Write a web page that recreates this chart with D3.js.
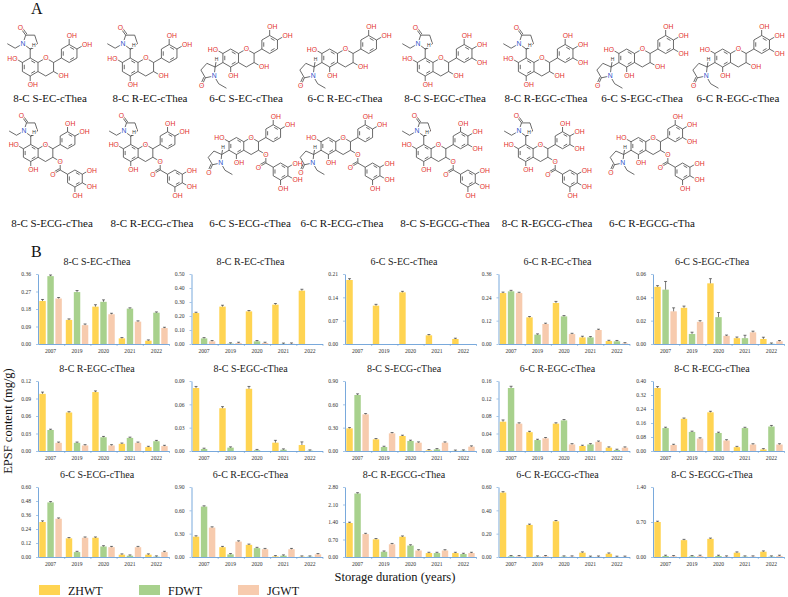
<!DOCTYPE html>
<html>
<head>
<meta charset="utf-8">
<script src="https://cdn.jsdelivr.net/npm/d3@7"></script>
<style>body{margin:0;background:#fff}</style>
</head>
<body>
<script>
// ---- data ----
const years = ["2007", "2019", "2020", "2021", "2022"];
const teas = ["ZHWT", "FDWT", "JGWT"];
const teaColors = ["#FFD452", "#A8D18D", "#F7CBAE"];

const structRow1 = ["8-C S-EC-cThea", "8-C R-EC-cThea", "6-C S-EC-cThea", "6-C R-EC-cThea",
  "8-C S-EGC-cThea", "8-C R-EGC-cThea", "6-C S-EGC-cThea", "6-C R-EGC-cThea"];
const structRow2 = ["8-C S-ECG-cThea", "8-C R-ECG-cThea", "6-C S-ECG-cThea", "6-C R-ECG-cThea",
  "8-C S-EGCG-cThea", "8-C R-EGCG-cThea", "6-C R-EGCG-cTha"];

const panelNames = [
  "8-C S-EC-cThea", "8-C R-EC-cThea", "6-C S-EC-cThea", "6-C R-EC-cThea", "6-C S-EGC-cThea",
  "8-C R-EGC-cThea", "8-C S-EGC-cThea", "8-C S-ECG-cThea", "6-C R-EGC-cThea", "8-C R-ECG-cThea",
  "6-C S-ECG-cThea", "6-C R-ECG-cThea", "8-C R-EGCG-cThea", "6-C R-EGCG-cThea", "8-C S-EGCG-cThea"];
const yMax  = [0.36, 0.50, 0.21, 0.36, 0.06, 0.12, 0.09, 0.90, 0.16, 0.40, 0.60, 0.90, 2.80, 0.60, 1.40];
const yStep = [0.09, 0.10, 0.07, 0.12, 0.02, 0.03, 0.03, 0.30, 0.04, 0.08, 0.12, 0.30, 0.70, 0.20, 0.70];

const zhwt = [
  [0.221, 0.124, 0.192, 0.029, 0.017],
  [0.221, 0.267, 0.233, 0.281, 0.381],
  [0.192, 0.115, 0.155, 0.026, 0.015],
  [0.262, 0.137, 0.211, 0.034, 0.015],
  [0.049, 0.031, 0.052, 0.005, 0.0043],
  [0.098, 0.066, 0.101, 0.0123, 0.0067],
  [0.081, 0.055, 0.080, 0.0107, 0.0077],
  [0.291, 0.150, 0.193, 0.009, 0.002],
  [0.067, 0.043, 0.0625, 0.0114, 0.0076],
  [0.360, 0.184, 0.221, 0.022, 0.009],
  [0.300, 0.160, 0.165, 0.020, 0.020],
  [0.261, 0.126, 0.156, 0.008, 0.004],
  [1.36, 0.707, 0.81, 0.157, 0.157],
  [0.552, 0.275, 0.306, 0.037, 0.028],
  [0.700, 0.337, 0.363, 0.086, 0.106]];
const fdwt = [
  [0.349, 0.267, 0.217, 0.182, 0.161],
  [0.040, 0.003, 0.019, 0.001, 0],
  [0, 0, 0, 0, 0],
  [0.271, 0.048, 0.142, 0.034, 0.014],
  [0.0466, 0.0086, 0.023, 0.005, 0.0002],
  [0.036, 0.014, 0.0236, 0.0224, 0.0168],
  [0.0026, 0.0043, 0.001, 0.0017, 0.0004],
  [0.72, 0.051, 0.129, 0.021, 0.004],
  [0.144, 0.025, 0.070, 0.015, 0.0023],
  [0.131, 0.109, 0.103, 0.131, 0.140],
  [0.468, 0.042, 0.090, 0.011, 0.003],
  [0.648, 0.034, 0.114, 0.017, 0.004],
  [2.54, 0.21, 0.458, 0.157, 0.118],
  [0.006, 0.003, 0.003, 0.001, 0.0005],
  [0.020, 0.013, 0.020, 0.007, 0.007]];
const jgwt = [
  [0.234, 0.097, 0.153, 0.115, 0.082],
  [0.019, 0.007, 0.007, 0.002, 0],
  [0, 0, 0, 0, 0],
  [0.262, 0.103, 0.051, 0.072, 0.003],
  [0.028, 0.019, 0.007, 0.010, 0.0023],
  [0.014, 0.0095, 0.0095, 0.014, 0.0084],
  [0, 0, 0, 0, 0],
  [0.471, 0.227, 0.107, 0.107, 0.056],
  [0.0625, 0.029, 0.015, 0.021, 0.0076],
  [0.034, 0.071, 0.060, 0.037, 0.037],
  [0.328, 0.165, 0.084, 0.084, 0.042],
  [0.378, 0.198, 0.100, 0.100, 0.034],
  [0.916, 0.51, 0.26, 0.26, 0.157],
  [0.006, 0.006, 0.003, 0.002, 0.001],
  [0.013, 0.020, 0.007, 0.007, 0.020]];

// standard deviations
const zhwtErr = [
  [0.008, 0.005, 0.010, 0.004, 0.003], [0.006, 0.010, 0.006, 0.008, 0.010],
  [0.004, 0.004, 0.003, 0.002, 0.002], [0.005, 0.004, 0.008, 0.006, 0.003],
  [0.001, 0.0015, 0.004, 0.001, 0.0015], [0.003, 0.001, 0.002, 0.001, 0.0005],
  [0.002, 0.002, 0.003, 0.003, 0.004], [0.010, 0.008, 0.010, 0.003, 0.002],
  [0.004, 0.002, 0.002, 0.001, 0.001], [0.008, 0.004, 0.006, 0.003, 0.002],
  [0.010, 0.005, 0.006, 0.004, 0.006], [0.012, 0.006, 0.008, 0.004, 0.003],
  [0.03, 0.02, 0.02, 0.01, 0.01], [0.008, 0.004, 0.006, 0.003, 0.003],
  [0.010, 0.010, 0.010, 0.008, 0.008]];
const fdwtErr = [
  [0.006, 0.008, 0.010, 0.003, 0.003], [0.004, 0.002, 0.004, 0.001, 0],
  [0, 0, 0, 0, 0], [0.005, 0.003, 0.003, 0.003, 0.002],
  [0.007, 0.0015, 0.004, 0.0025, 0.0002], [0.001, 0.001, 0.001, 0.001, 0.001],
  [0.001, 0.001, 0.0005, 0.0005, 0.0003], [0.015, 0.005, 0.006, 0.003, 0.002],
  [0.004, 0.001, 0.002, 0.001, 0.0005], [0.005, 0.004, 0.004, 0.004, 0.006],
  [0.006, 0.004, 0.004, 0.003, 0.002], [0.010, 0.004, 0.005, 0.004, 0.002],
  [0.02, 0.01, 0.01, 0.01, 0.01], [0.002, 0.002, 0.001, 0.001, 0.0005],
  [0.003, 0.003, 0.003, 0.002, 0.002]];
const jgwtErr = [
  [0.005, 0.006, 0.005, 0.004, 0.004], [0.003, 0.002, 0.002, 0.001, 0],
  [0, 0, 0, 0, 0], [0.004, 0.004, 0.003, 0.004, 0.001],
  [0.003, 0.001, 0.0005, 0.001, 0.0004], [0.001, 0.001, 0.001, 0.001, 0.001],
  [0, 0, 0, 0, 0], [0.006, 0.006, 0.005, 0.005, 0.004],
  [0.002, 0.001, 0.001, 0.001, 0.001], [0.003, 0.003, 0.003, 0.003, 0.003],
  [0.005, 0.005, 0.004, 0.004, 0.003], [0.008, 0.006, 0.006, 0.005, 0.005],
  [0.02, 0.015, 0.01, 0.01, 0.01], [0.002, 0.002, 0.001, 0.001, 0.0005],
  [0.002, 0.003, 0.002, 0.002, 0.002]];

// ---- drawing ----
const W = 788, H = 597;
const serif = "'Liberation Serif', 'Times New Roman', serif";
const sans = "'Liberation Sans', Arial, sans-serif";
const axisBlue = "#6A9FD8";

const svg = d3.select("body").append("svg").attr("width", W).attr("height", H);
svg.append("rect").attr("width", W).attr("height", H).attr("fill", "#fff");

// --- panel A: structures ---
function drawMol(name, ox, oy, b) {
  const six = name.startsWith("6-C");
  const pyro = name.includes("EGC");
  const gall = name.includes("CG-");
  const g = svg.append("g");
  const bonds = [], labels = [];
  const P = p => [ox + p[0] * b, oy + p[1] * b];
  const hex = (cx, cy) => d3.range(6).map(k => {
    const a = (-90 + 60 * k) * Math.PI / 180;
    return [cx + Math.cos(a), cy + Math.sin(a)];
  });
  function ring(V, c, dbl) {
    V.forEach((v, i) => bonds.push([v, V[(i + 1) % V.length]]));
    dbl.forEach(i => {
      const a = V[i], e = V[(i + 1) % V.length];
      const s = t => [a[0] + (e[0] - a[0]) * t, a[1] + (e[1] - a[1]) * t];
      const sh = p => [p[0] + (c[0] - p[0]) * 0.24, p[1] + (c[1] - p[1]) * 0.24];
      bonds.push([sh(s(0.18)), sh(s(0.82))]);
    });
  }
  function dbond(p, q) {
    bonds.push([p, q]);
    const dx = q[0] - p[0], dy = q[1] - p[1];
    const pr = [-dy * 0.18, dx * 0.18];
    bonds.push([[p[0] + pr[0], p[1] + pr[1]], [q[0] + pr[0], q[1] + pr[1]]]);
  }
  const A = hex(0, 0);
  ring(A, [0, 0], [0, 2, 4]);
  const O1 = [1.732, -1], C2 = [2.598, -0.5], C3 = [2.598, 0.5], C4 = [1.732, 1];
  bonds.push([A[1], O1], [O1, C2], [C2, C3], [C3, C4], [C4, A[2]]);
  labels.push({p: O1, t: "O"});
  const Bc = [4.33, -1.5];
  const B = hex(Bc[0], Bc[1]);
  ring(B, Bc, [0, 2, 4]);
  bonds.push([C2, B[4]]);
  const sub = (v, dir, t) => { const q = [v[0] + dir[0], v[1] + dir[1]]; bonds.push([v, q]); labels.push({p: q, t}); return q; };
  sub(B[0], [0, -0.95], "OH");
  sub(B[1], [0.82, -0.47], "OH");
  if (pyro) sub(B[2], [0.82, 0.47], "OH");
  sub(A[5], [-0.82, -0.47], "HO");
  sub(A[3], [0, 0.95], "OH");
  if (gall) {
    // 3-O-galloyl ester
    const Oe = sub(C3, [0.866, 0.5], "O");
    const Cc = [Oe[0], Oe[1] + 1];
    bonds.push([Oe, Cc]);
    const Od = [Cc[0] - 0.866, Cc[1] + 0.5];
    dbond(Cc, Od);
    labels.push({p: Od, t: "O"});
    const Gc = [Cc[0] + 1.732, Cc[1] + 1];
    const G = hex(Gc[0], Gc[1]);
    ring(G, Gc, [0, 2, 4]);
    bonds.push([Cc, G[5]]);
    sub(G[1], [0.82, -0.47], "OH");
    sub(G[2], [0.82, 0.47], "OH");
    sub(G[3], [0, 0.95], "OH");
  } else {
    sub(C3, [0.82, 0.47], "OH");
  }
  // pyrrolidinone
  const att = six ? A[4] : A[0];
  const d = six ? [-0.866, 0.5] : [0, -1];
  const C5 = [att[0] + d[0], att[1] + d[1]];
  bonds.push([att, C5]);
  const R = 0.851;
  const cen = [C5[0] + d[0] * R, C5[1] + d[1] * R];
  const a0 = Math.atan2(-d[1], -d[0]);
  const pv = d3.range(5).map(k => {
    const a = a0 + k * 72 * Math.PI / 180;
    return [cen[0] + R * Math.cos(a), cen[1] + R * Math.sin(a)];
  });
  ring(pv, cen, []);
  labels.push({p: pv[1], t: "N", c: "#2E4FC9"});
  const ac = a0 + 144 * Math.PI / 180;
  const Ok = [cen[0] + 1.85 * Math.cos(ac), cen[1] + 1.85 * Math.sin(ac)];
  dbond(pv[2], Ok);
  labels.push({p: Ok, t: "O"});
  const E1 = six ? [pv[1][0] + 0.5, pv[1][1] + 0.866] : [pv[1][0] - 0.866, pv[1][1] + 0.5];
  const E2 = six ? [E1[0] + 0.866, E1[1] + 0.5] : [E1[0] - 0.866, E1[1] - 0.5];
  bonds.push([pv[1], E1], [E1, E2]);
  // stereo H
  const hpos = [C5[0] + (six ? 0.1 : 0.35), C5[1] + (six ? -0.55 : -0.1)];
  bonds.push([C5, hpos]);
  labels.push({p: [hpos[0] + 0.05, hpos[1] - 0.3], t: "H", c: "#333", fs: 5});

  g.selectAll("line").data(bonds).join("line")
    .attr("x1", e => P(e[0])[0]).attr("y1", e => P(e[0])[1])
    .attr("x2", e => P(e[1])[0]).attr("y2", e => P(e[1])[1])
    .attr("stroke", "#3a3a3a").attr("stroke-width", 0.75);
  const fs0 = 6.8;
  g.selectAll("text").data(labels).join("text")
    .attr("x", l => {
      const x = P(l.p)[0], f = l.fs || fs0;
      return l.t === "OH" ? x - 0.36 * f : l.t === "HO" ? x + 0.36 * f : x;
    })
    .attr("y", l => P(l.p)[1])
    .attr("dy", "0.36em")
    .attr("text-anchor", l => l.t === "OH" ? "start" : l.t === "HO" ? "end" : "middle")
    .attr("font-family", sans).attr("font-size", l => l.fs || fs0)
    .attr("fill", l => l.c || "#E2302B")
    .attr("stroke", "#fff").attr("stroke-width", 2.2).attr("paint-order", "stroke")
    .text(l => l.t);
}

const row1X = [50, 150, 246, 345, 445, 546, 642, 738];
const row2X = [52, 152, 250, 342, 445, 547, 652];
const bond = 9, bond2 = 8.5;
structRow1.forEach((nm, i) => {
  const six = nm.startsWith("6-C");
  drawMol(nm, row1X[i] - (six ? 1.7 : 2.2) * bond, six ? 58 : 67, bond);
  svg.append("text").attr("x", row1X[i]).attr("y", 102).attr("text-anchor", "middle")
    .attr("font-family", serif).attr("font-size", 11).attr("fill", "#111").text(nm);
});
structRow2.forEach((nm, i) => {
  const six = nm.startsWith("6-C");
  drawMol(nm, row2X[i] - (six ? 1.6 : 2.5) * bond2, six ? 146 : 153, bond2);
  svg.append("text").attr("x", row2X[i]).attr("y", 227).attr("text-anchor", "middle")
    .attr("font-family", serif).attr("font-size", 11).attr("fill", "#111").text(nm);
});

svg.append("text").attr("x", 31).attr("y", 14).attr("font-family", serif)
  .attr("font-size", 16).attr("fill", "#111").text("A");
svg.append("text").attr("x", 31).attr("y", 257).attr("font-family", serif)
  .attr("font-size", 16).attr("fill", "#111").text("B");

// --- panel B: bar charts ---
const rowBase = [344, 451, 557];
const axX = [38, 191.5, 345, 498.5, 653];
const plotH = 70, plotW = 131;
const series = [zhwt, fdwt, jgwt];
const errs = [zhwtErr, fdwtErr, jgwtErr];

panelNames.forEach((nm, i) => {
  const r = Math.floor(i / 5), c = i % 5;
  const x0 = axX[c], yb = rowBase[r];
  const g = svg.append("g");
  const y = d3.scaleLinear().domain([0, yMax[i]]).range([yb, yb - plotH]);
  const x = d3.scaleBand().domain(years).range([x0, x0 + plotW]).paddingInner(0.15).paddingOuter(0.05);
  const xs = d3.scaleBand().domain(teas).range([0, x.bandwidth()]).paddingInner(0.2);

  const ticks = d3.range(0, yMax[i] + yStep[i] / 2, yStep[i]);
  const ya = g.append("g").attr("transform", `translate(${x0},0)`)
    .call(d3.axisLeft(y).tickValues(ticks).tickFormat(d3.format(".2f")).tickSize(2).tickSizeOuter(0).tickPadding(5));
  ya.select(".domain").attr("stroke", axisBlue).attr("stroke-width", 0.9);
  ya.selectAll(".tick line").attr("stroke", axisBlue).attr("stroke-width", 0.6);
  ya.selectAll(".tick text").attr("font-family", serif).attr("font-size", 5.6).attr("fill", "#333");

  const bars = [];
  years.forEach((yr, k) => teas.forEach((t, s) => {
    bars.push({yr, t, s, v: series[s][i][k], e: errs[s][i][k]});
  }));
  const shown = bars.filter(d => d.v > 0);
  g.selectAll("rect.bar").data(shown).join("rect").attr("class", "bar")
    .attr("x", d => x(d.yr) + xs(d.t))
    .attr("width", xs.bandwidth())
    .attr("y", d => y(d.v))
    .attr("height", d => yb - y(d.v))
    .attr("fill", d => teaColors[d.s]);
  const eb = g.selectAll("g.err").data(shown.filter(d => d.e > 0)).join("g").attr("class", "err")
    .attr("stroke", "#222").attr("stroke-width", 0.6);
  eb.append("line")
    .attr("x1", d => x(d.yr) + xs(d.t) + xs.bandwidth() / 2)
    .attr("x2", d => x(d.yr) + xs(d.t) + xs.bandwidth() / 2)
    .attr("y1", d => y(d.v)).attr("y2", d => Math.min(y(d.v + d.e), y(d.v) - 0.8));
  eb.append("line")
    .attr("x1", d => x(d.yr) + xs(d.t) + xs.bandwidth() / 2 - 1.5)
    .attr("x2", d => x(d.yr) + xs(d.t) + xs.bandwidth() / 2 + 1.5)
    .attr("y1", d => Math.min(y(d.v + d.e), y(d.v) - 0.8))
    .attr("y2", d => Math.min(y(d.v + d.e), y(d.v) - 0.8));

  // x axis: blue base line with group dividers, then year labels
  const xb = d3.scaleLinear().domain([0, years.length]).range([x0, x0 + plotW]);
  const xa = g.append("g").attr("transform", `translate(0,${yb})`)
    .call(d3.axisBottom(xb).tickValues(d3.range(1, years.length + 1)).tickFormat("").tickSize(2).tickSizeOuter(0));
  xa.select(".domain").attr("stroke", axisBlue).attr("stroke-width", 0.9);
  xa.selectAll(".tick line").attr("stroke", axisBlue).attr("stroke-width", 0.6);
  const xl = g.append("g").attr("transform", `translate(0,${yb})`)
    .call(d3.axisBottom(x).tickSize(0).tickPadding(5));
  xl.select(".domain").remove();
  xl.selectAll(".tick text").attr("font-family", serif).attr("font-size", 5.6).attr("fill", "#333");

  g.append("text").attr("x", x0 + 59).attr("y", yb - 79).attr("text-anchor", "middle")
    .attr("font-family", serif).attr("font-size", 10).attr("fill", "#222").text(nm);
});

svg.append("text").attr("transform", "translate(12,421) rotate(-90)")
  .attr("text-anchor", "middle").attr("font-family", serif).attr("font-size", 12.5)
  .attr("fill", "#111").text("EPSF content (mg/g)");
svg.append("text").attr("x", 395).attr("y", 581).attr("text-anchor", "middle")
  .attr("font-family", serif).attr("font-size", 12.5).attr("fill", "#111").text("Storage duration (years)");

// legend
const legX = [39, 139, 238];
teas.forEach((t, s) => {
  svg.append("rect").attr("x", legX[s]).attr("y", 585).attr("width", 21).attr("height", 10)
    .attr("fill", teaColors[s]);
  svg.append("text").attr("x", legX[s] + 29).attr("y", 594.5)
    .attr("font-family", serif).attr("font-size", 12).attr("fill", "#111").text(t);
});
</script>
</body>
</html>
